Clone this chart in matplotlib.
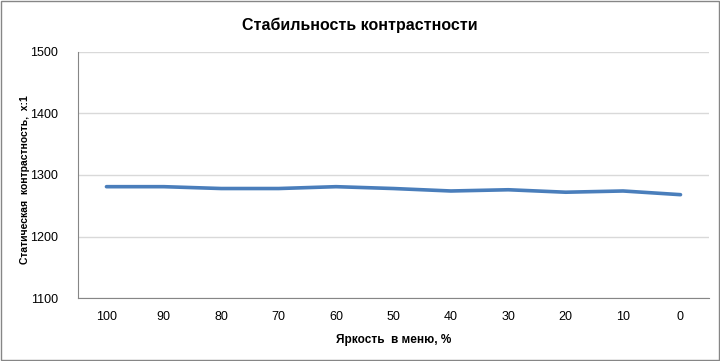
import matplotlib
matplotlib.use("Agg")
import matplotlib.pyplot as plt
from matplotlib.patches import Rectangle

brightness = ["100", "90", "80", "70", "60", "50", "40", "30", "20", "10", "0"]
contrast = [1281, 1281, 1278, 1278, 1281, 1278, 1274, 1276, 1272, 1274, 1268]

plt.rcParams["font.family"] = ["Liberation Sans Narrow", "Liberation Sans", "DejaVu Sans"]

fig = plt.figure(figsize=(7.2, 3.61), dpi=100)
ax = fig.add_axes([0.108, 0.1745, 0.877, 0.6815])

x = range(len(brightness))
ax.plot(x, contrast, color="#4A7EBB", linewidth=2.6, solid_capstyle="round")

ax.set_xlim(-0.5, len(brightness) - 0.5)
ax.set_ylim(1100, 1500)
ax.set_yticks([1100, 1200, 1300, 1400, 1500])
ax.set_xticks(list(x))
ax.set_xticklabels(brightness)
ax.tick_params(axis="both", length=0, labelsize=9, colors="black")
ax.tick_params(axis="x", pad=9)
ax.tick_params(axis="y", pad=14)
ax.grid(axis="y", color="#D9D9D9", linewidth=1)
ax.set_axisbelow(True)

for side in ["top", "right"]:
    ax.spines[side].set_visible(False)
ax.spines["left"].set_color("#868686")
ax.spines["bottom"].set_color("#868686")

ax.set_xlabel("Яркость  в меню, %", fontsize=8.5, fontweight="bold", labelpad=8)
ax.set_ylabel("Статическая  контрастность,  x:1", fontsize=7.5, fontweight="bold")
ax.yaxis.set_label_coords(-0.076, 0.48)
fig.text(0.5, 0.93, "Стабильность контрастности", ha="center", va="center",
         fontsize=11.5, fontweight="bold")

fig.patches.append(Rectangle((0.001, 0.002), 0.997, 0.995, transform=fig.transFigure,
                             fill=False, edgecolor="#868686", linewidth=1))

fig.savefig("out.png", dpi=100)
